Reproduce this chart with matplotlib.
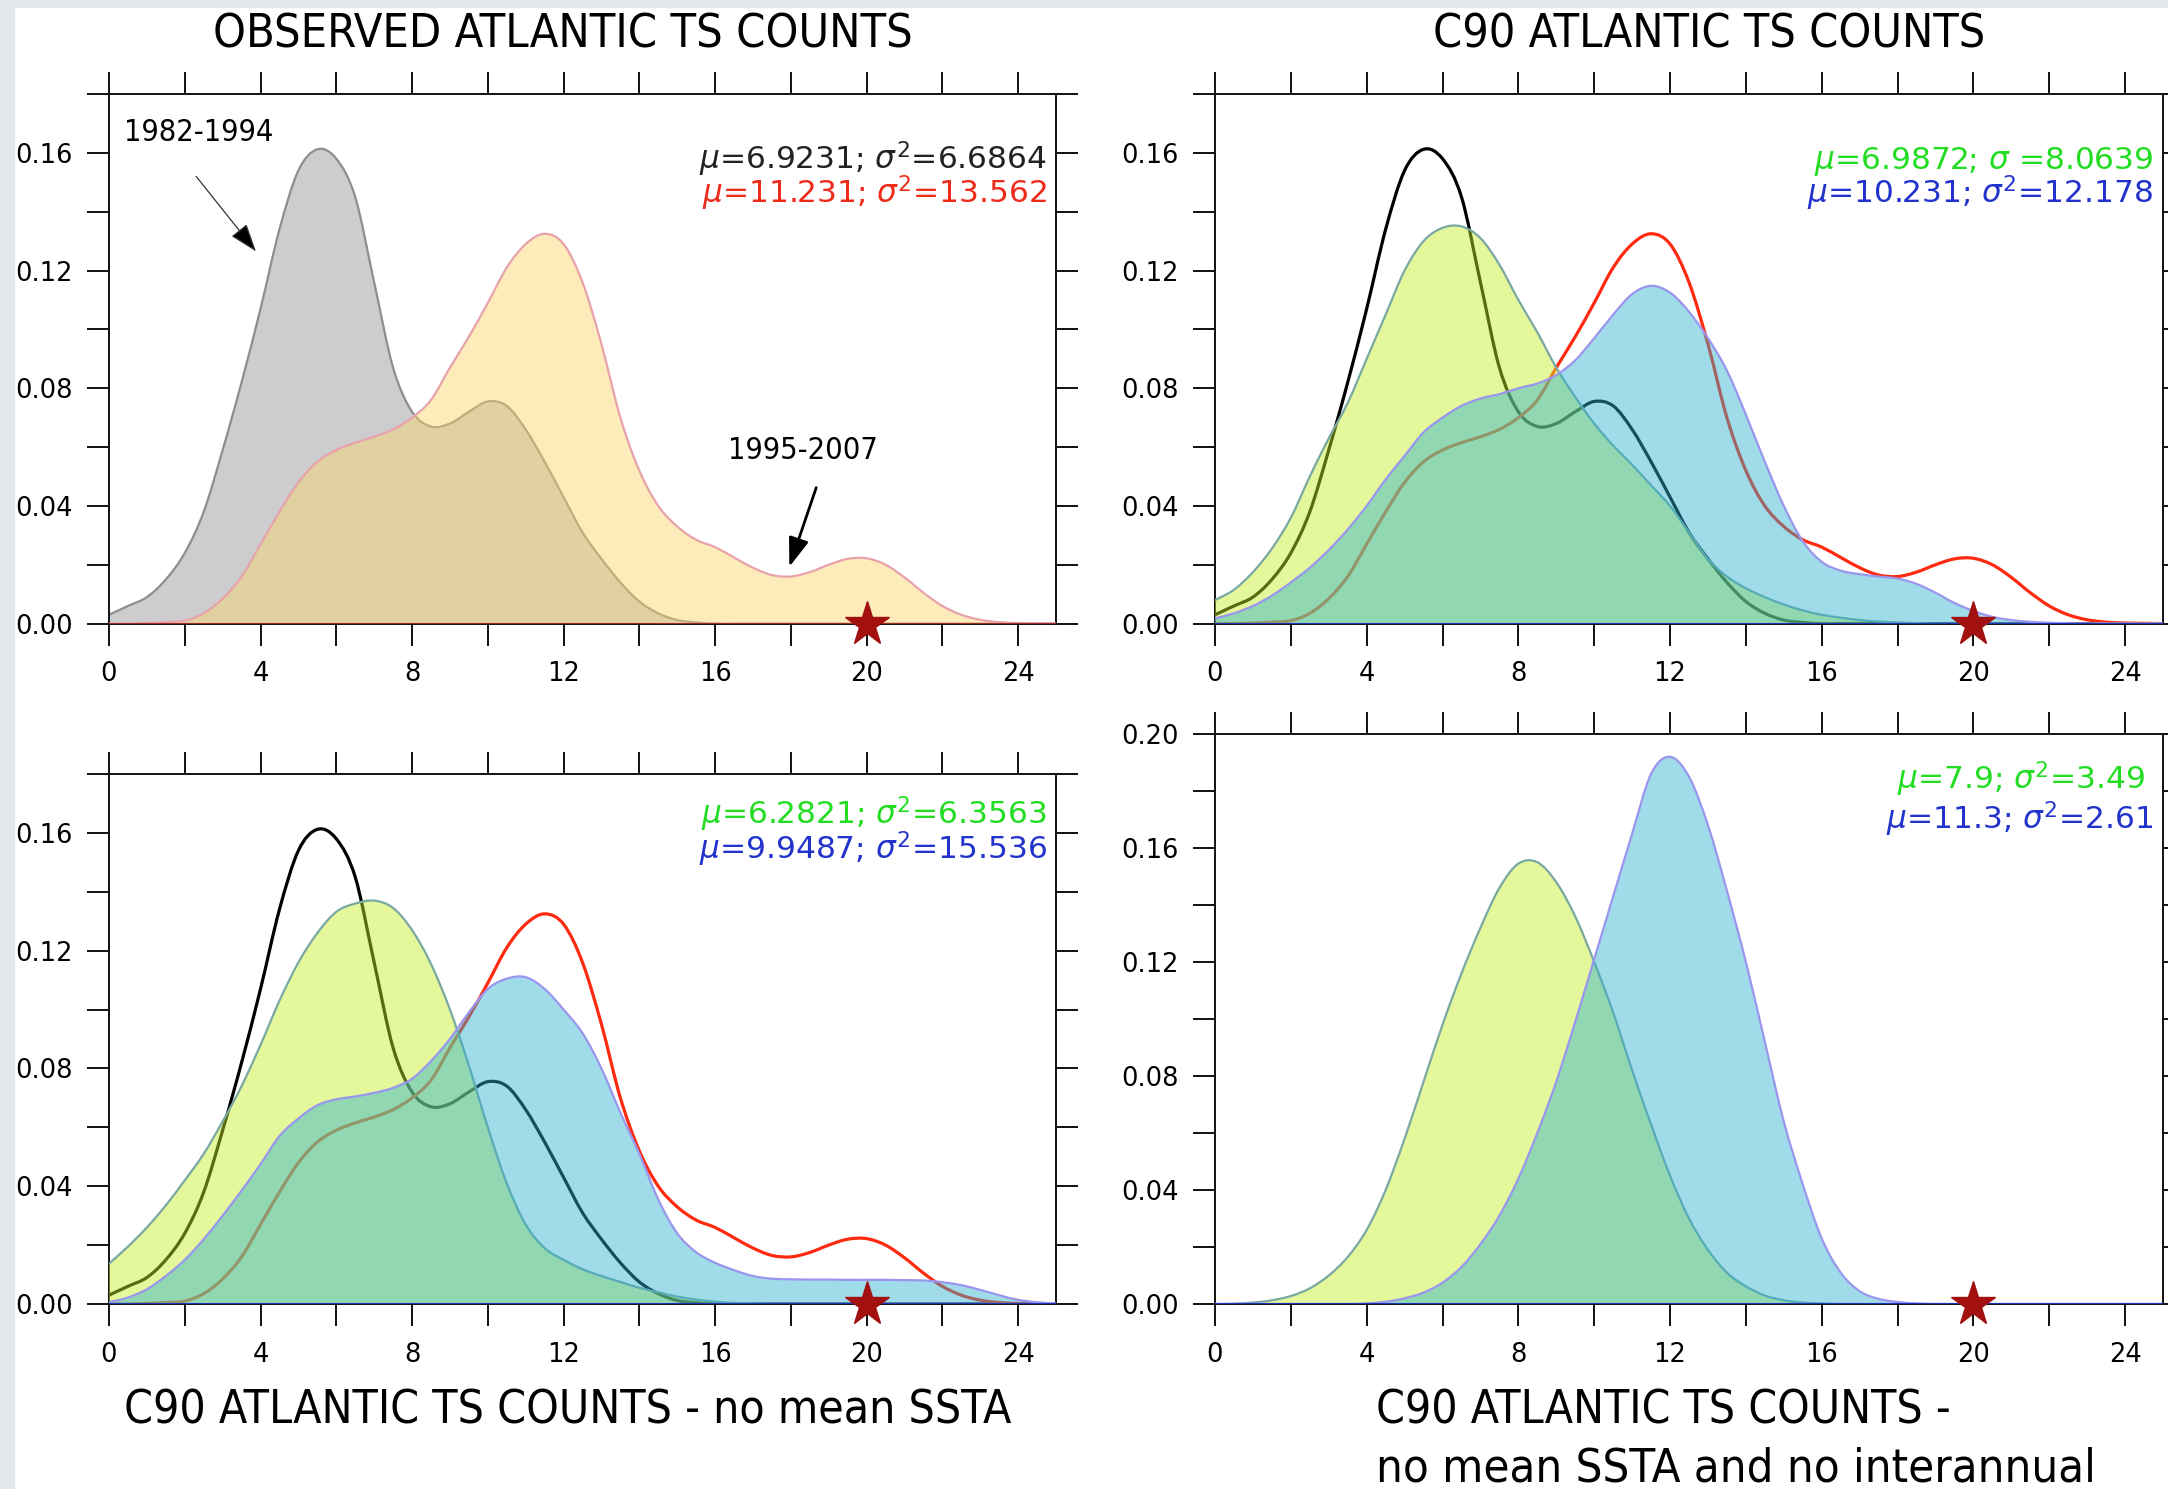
import numpy as np
import matplotlib
matplotlib.use('Agg')
import matplotlib.pyplot as plt
from matplotlib import font_manager as fm
from matplotlib.ticker import MultipleLocator, FormatStrFormatter
from matplotlib.patches import Rectangle, PathPatch
from matplotlib.path import Path

# ---------------- data ----------------
X = np.arange(0, 25.5, 0.5)          # TS count axis, sample every 0.5

OBS_8294 = [0.003, 0.006, 0.009, 0.015, 0.024, 0.038, 0.059, 0.082, 0.107, 0.134,
            0.154, 0.1612, 0.158, 0.145, 0.116, 0.087, 0.072, 0.067, 0.068, 0.072,
            0.0755, 0.074, 0.066, 0.055, 0.043, 0.031, 0.022, 0.014, 0.0075, 0.0035,
            0.0012, 0.0004, 0, 0, 0, 0, 0, 0, 0, 0,
            0, 0, 0, 0, 0, 0, 0, 0, 0, 0, 0]
OBS_9507 = [0, 0, 0.0002, 0.0005, 0.001, 0.0035, 0.0085, 0.016, 0.027, 0.038,
            0.048, 0.055, 0.059, 0.0615, 0.0635, 0.066, 0.070, 0.076, 0.087, 0.0975,
            0.109, 0.121, 0.129, 0.1325, 0.129, 0.116, 0.095, 0.070, 0.052, 0.040,
            0.033, 0.0285, 0.026, 0.0225, 0.019, 0.0165, 0.016, 0.0175, 0.020, 0.022,
            0.0222, 0.020, 0.0157, 0.0105, 0.006, 0.003, 0.0013, 0.0005, 0.0002, 0.0001, 0]
C90_LO = [0.008, 0.0115, 0.0175, 0.0255, 0.036, 0.050, 0.063, 0.075, 0.090, 0.105,
          0.120, 0.130, 0.1345, 0.135, 0.131, 0.122, 0.110, 0.099, 0.087, 0.077,
          0.068, 0.0605, 0.054, 0.047, 0.040, 0.031, 0.022, 0.016, 0.012, 0.009,
          0.0065, 0.0045, 0.003, 0.002, 0.0012, 0.0007, 0.0004, 0.0002, 0, 0,
          0, 0, 0, 0, 0, 0, 0, 0, 0, 0, 0]
C90_HI = [0.0018, 0.0035, 0.006, 0.0095, 0.014, 0.019, 0.025, 0.032, 0.040, 0.049,
          0.057, 0.065, 0.070, 0.074, 0.0765, 0.078, 0.080, 0.0816, 0.0845, 0.0895,
          0.097, 0.105, 0.112, 0.1148, 0.1125, 0.106, 0.097, 0.086, 0.071, 0.055,
          0.040, 0.028, 0.021, 0.018, 0.0168, 0.016, 0.0153, 0.0135, 0.0105, 0.007,
          0.0043, 0.0023, 0.0012, 0.0006, 0.0003, 0.0001, 0, 0, 0, 0, 0]
NOSST_LO = [0.0137, 0.0195, 0.026, 0.0335, 0.042, 0.051, 0.062, 0.074, 0.088, 0.103,
            0.116, 0.126, 0.1332, 0.136, 0.137, 0.1345, 0.127, 0.1155, 0.100, 0.081,
            0.060, 0.041, 0.027, 0.019, 0.015, 0.0118, 0.0095, 0.0075, 0.0055, 0.004,
            0.0025, 0.0015, 0.0008, 0.0004, 0.0002, 0, 0, 0, 0, 0,
            0, 0, 0, 0, 0, 0, 0, 0, 0, 0, 0]
NOSST_HI = [0.0006, 0.0022, 0.005, 0.0095, 0.015, 0.022, 0.030, 0.0385, 0.0475, 0.057,
            0.063, 0.0675, 0.0695, 0.0705, 0.0717, 0.0734, 0.0765, 0.0825, 0.090, 0.099,
            0.107, 0.1105, 0.111, 0.107, 0.100, 0.092, 0.080, 0.065, 0.051, 0.0355,
            0.024, 0.0176, 0.014, 0.0115, 0.0095, 0.0086, 0.0084, 0.0083, 0.0083, 0.0082,
            0.0082, 0.0082, 0.0081, 0.008, 0.0074, 0.0064, 0.0048, 0.003, 0.0014, 0.0006, 0.0002]
NOINT_LO = [0, 0.0001, 0.0005, 0.0013, 0.0028, 0.0055, 0.010, 0.0165, 0.026, 0.040,
            0.058, 0.078, 0.098, 0.116, 0.132, 0.146, 0.1545, 0.155, 0.148, 0.136,
            0.120, 0.1023, 0.082, 0.063, 0.045, 0.030, 0.019, 0.011, 0.0062, 0.003,
            0.0013, 0.0005, 0.0002, 0, 0, 0, 0, 0, 0, 0,
            0, 0, 0, 0, 0, 0, 0, 0, 0, 0, 0]
NOINT_HI = [0, 0, 0, 0, 0, 0, 0, 0, 0.0002, 0.0008,
            0.002, 0.004, 0.0075, 0.013, 0.021, 0.031, 0.044, 0.060, 0.078, 0.099,
            0.121, 0.143, 0.165, 0.186, 0.192, 0.185, 0.168, 0.145, 0.120, 0.092,
            0.064, 0.042, 0.023, 0.011, 0.0045, 0.0018, 0.0007, 0.0002, 0, 0,
            0, 0, 0, 0, 0, 0, 0, 0, 0, 0, 0]

OBS_2005 = 20   # star on the x axis

STATS_TL = [r'$\mu$=6.9231; $\sigma^2$=6.6864', r'$\mu$=11.231; $\sigma^2$=13.562']
STATS_TR = [r'$\mu$=6.9872; $\sigma$ =8.0639', r'$\mu$=10.231; $\sigma^2$=12.178']
STATS_BL = [r'$\mu$=6.2821; $\sigma^2$=6.3563', r'$\mu$=9.9487; $\sigma^2$=15.536']
STATS_BR = [r'$\mu$=7.9; $\sigma^2$=3.49', r'$\mu$=11.3; $\sigma^2$=2.61']

TITLE_TL = 'OBSERVED ATLANTIC TS COUNTS'
TITLE_TR = 'C90 ATLANTIC TS COUNTS'
TITLE_BL = 'C90 ATLANTIC TS COUNTS - no mean SSTA'
TITLE_BR = ['C90 ATLANTIC TS COUNTS -', 'no mean SSTA and no interannual']
LABEL_EARLY = '1982-1994'
LABEL_LATE = '1995-2007'

# ---------------- style ----------------
W, H = 2168, 1489
plt.rcParams['font.family'] = ['DejaVu Sans']
plt.rcParams['mathtext.fontset'] = 'dejavusans'

names = {f.name for f in fm.fontManager.ttflist}
condensed_dejavu = any(f.name == 'DejaVu Sans' and str(f.stretch) in ('condensed', 'semi-condensed')
                       for f in fm.fontManager.ttflist)
if 'Liberation Sans Narrow' in names:
    TFONT = dict(family=['Liberation Sans Narrow', 'DejaVu Sans'])
elif condensed_dejavu:
    TFONT = dict(family=['DejaVu Sans'], stretch='condensed')
else:
    TFONT = dict(family=['Roboto', 'DejaVu Sans'])

fig = plt.figure(figsize=(W / 100, H / 100), dpi=100)
fig.patch.set_facecolor('white')
fig.patches.append(Rectangle((0, 0), 14 / W, 1, transform=fig.transFigure,
                             color='#e3e7ec', zorder=0))
fig.patches.append(Rectangle((0, 1 - 7 / H), 1, 7 / H, transform=fig.transFigure,
                             color='#e3e7ec', zorder=0))


def px_axes(l, r, b, t):
    return fig.add_axes([l / W, 1 - b / H, (r - l) / W, (b - t) / H])


axTL = px_axes(109, 1056, 623.6, 94)
axTR = px_axes(1215, 2163, 623.6, 94)
axBL = px_axes(109, 1056, 1304, 774)
axBR = px_axes(1215, 2163, 1304, 734)


def style(ax, ytop):
    ax.set_xlim(0, 25)
    ax.set_ylim(0, ytop)
    ax.xaxis.set_major_locator(MultipleLocator(4))
    ax.xaxis.set_minor_locator(MultipleLocator(2))
    ax.yaxis.set_major_locator(MultipleLocator(0.04))
    ax.yaxis.set_minor_locator(MultipleLocator(0.02))
    ax.yaxis.set_major_formatter(FormatStrFormatter('%.2f'))
    ax.xaxis.set_major_formatter(FormatStrFormatter('%d'))
    for which in ('major', 'minor'):
        ax.tick_params(axis='both', which=which, direction='out', length=16, width=1.4,
                       top=True, right=True, labeltop=False, labelright=False, color='#111111')
    ax.tick_params(axis='x', which='major', labelsize=18.5, pad=11)
    ax.tick_params(axis='y', which='major', labelsize=18.5, pad=10)
    for s in ax.spines.values():
        s.set_linewidth(1.4)
        s.set_color('#111111')
    ax.set_facecolor('white')


for ax in (axTL, axTR, axBL):
    style(ax, 0.18)
style(axBR, 0.20)

GREEN_FILL = '#c7ef23'
BLUE_FILL = '#2cb1d0'
GREEN_EDGE = '#7aa8a2'
BLUE_EDGE = '#9a96ee'
STAR = '#a21010'


def curve_path(x, y, closed=False):
    """Smooth (cubic Bezier) path passing through every sample point."""
    x = np.asarray(x, float)
    y = np.asarray(y, float)
    n = len(x)
    verts = [(x[0], y[0])]
    codes = [Path.MOVETO]
    for i in range(n - 1):
        a = max(i - 1, 0)
        d = min(i + 2, n - 1)
        c1 = (x[i] + (x[i + 1] - x[a]) / 6.0, y[i] + (y[i + 1] - y[a]) / 6.0)
        c2 = (x[i + 1] - (x[d] - x[i]) / 6.0, y[i + 1] - (y[d] - y[i]) / 6.0)
        verts += [c1, c2, (x[i + 1], y[i + 1])]
        codes += [Path.CURVE4] * 3
    if closed:
        verts += [(x[-1], 0.0), (x[0], 0.0), (x[0], y[0])]
        codes += [Path.LINETO, Path.LINETO, Path.CLOSEPOLY]
    return Path(verts, codes)


def fill_curve(ax, y, color, alpha, z):
    ax.add_patch(PathPatch(curve_path(X, y, closed=True), facecolor=color, alpha=alpha,
                           lw=0, edgecolor='none', zorder=z))


def line_curve(ax, y, color, lw, z):
    ax.add_patch(PathPatch(curve_path(X, y), facecolor='none', edgecolor=color,
                           lw=lw, zorder=z, capstyle='round', joinstyle='round'))


def star(ax):
    ax.plot([OBS_2005], [0], marker='*', ms=33, color=STAR, mec=STAR,
            clip_on=False, zorder=10, linestyle='none')


# --- top left: observed ---
fill_curve(axTL, OBS_8294, '#cdcdd0', 1.0, 2)
line_curve(axTL, OBS_8294, '#8e8e8e', 1.6, 2.1)
fill_curve(axTL, OBS_9507, '#fbd566', 0.45, 3)
line_curve(axTL, OBS_9507, '#e7a2aa', 1.6, 3.1)
axTL.axhline(0, color='#9b2a2a', lw=2.2, zorder=4)
star(axTL)
axTL.text(0.4, 0.1668, LABEL_EARLY, fontsize=22, ha='left', va='center', **TFONT)
axTL.annotate('', xy=(3.88, 0.1265), xytext=(2.30, 0.152),
              arrowprops=dict(arrowstyle='-|>,head_length=0.8,head_width=0.28',
                              lw=0.9, color='#333333', fc='black', shrinkA=0, shrinkB=0,
                              mutation_scale=22))
axTL.text(18.33, 0.0587, LABEL_LATE, fontsize=22, ha='center', va='center', **TFONT)
axTL.annotate('', xy=(17.96, 0.0193), xytext=(18.67, 0.0462),
              arrowprops=dict(arrowstyle='-|>,head_length=0.8,head_width=0.28',
                              lw=2.0, color='black', shrinkA=0, shrinkB=0,
                              mutation_scale=22))


def model_panel(ax, lo, hi, with_obs=True):
    if with_obs:
        line_curve(ax, OBS_8294, 'black', 2.3, 2)
        line_curve(ax, OBS_9507, '#ff2a10', 2.3, 2)
    fill_curve(ax, lo, GREEN_FILL, 0.45, 3)
    line_curve(ax, lo, GREEN_EDGE, 1.6, 3.05)
    fill_curve(ax, hi, BLUE_FILL, 0.45, 4)
    line_curve(ax, hi, BLUE_EDGE, 1.6, 4.1)
    ax.axhline(0, color='#2233bb', lw=2.2, zorder=5)
    star(ax)


model_panel(axTR, C90_LO, C90_HI)
model_panel(axBL, NOSST_LO, NOSST_HI)
model_panel(axBR, NOINT_LO, NOINT_HI, with_obs=False)


def stats(ax, lines, colors, xs, ys, size=22.5):
    for s, c, x, y in zip(lines, colors, xs, ys):
        ax.text(x, y, s, color=c, fontsize=size, ha='right', va='baseline',
                transform=ax.transAxes, zorder=11)


stats(axTL, STATS_TL, ['#222222', '#ee2a1a'], [0.9905, 0.9905], [0.858, 0.793])
stats(axTR, STATS_TR, ['#22dd22', '#2233cc'], [0.9895, 0.9895], [0.858, 0.793])
stats(axBL, STATS_BL, ['#22dd22', '#2233cc'], [0.9905, 0.9905], [0.904, 0.839])
stats(axBR, STATS_BR, ['#22dd22', '#2233cc'], [0.981, 0.9895], [0.9026, 0.832])

# ---------------- titles ----------------
renderer = fig.canvas.get_renderer()


def fit_text(x, y, s, target_w, ha, base=36):
    t = fig.text(x / W, 1 - y / H, s, fontsize=base, ha=ha, va='baseline', **TFONT)
    w = t.get_window_extent(renderer).width
    t.set_fontsize(base * min(1.0, target_w / w) if w > 0 else base)
    return t


fit_text(563, 48, TITLE_TL, 698, 'center')
fit_text(1709, 48, TITLE_TR, 552, 'center')
fit_text(568, 1424, TITLE_BL, 889, 'center')
fit_text(1376, 1424, TITLE_BR[0], 575, 'left')
fit_text(1376, 1481, TITLE_BR[1], 720, 'left')

fig.savefig('out.png', dpi=100, facecolor=fig.get_facecolor())
